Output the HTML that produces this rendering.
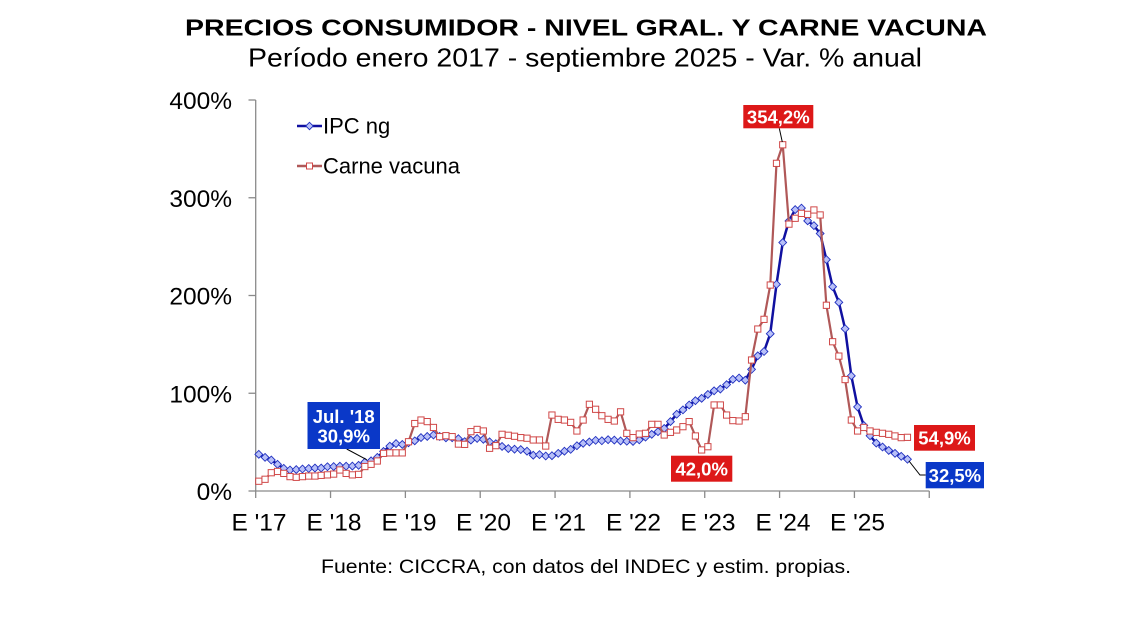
<!DOCTYPE html>
<html>
<head>
<meta charset="utf-8">
<style>
html,body{margin:0;padding:0;background:#fff;}
svg{display:block;}
text{font-family:"Liberation Sans",Arial,sans-serif;}
</style>
</head>
<body>
<svg id="c" width="1123" height="632" viewBox="0 0 1123 632" xmlns="http://www.w3.org/2000/svg">
<rect width="1123" height="632" fill="#fff"/>
<text x="586" y="35.7" font-size="23.5" font-weight="bold" text-anchor="middle" textLength="802" lengthAdjust="spacingAndGlyphs" fill="#000">PRECIOS CONSUMIDOR - NIVEL GRAL. Y CARNE VACUNA</text>
<text x="585" y="66.7" font-size="26" text-anchor="middle" textLength="674" lengthAdjust="spacingAndGlyphs" fill="#000">Período enero 2017 - septiembre 2025 - Var. % anual</text>
<text x="586" y="573" font-size="19.5" text-anchor="middle" textLength="530" lengthAdjust="spacingAndGlyphs" fill="#000">Fuente: CICCRA, con datos del INDEC y estim. propias.</text>

<!-- axes -->
<g stroke="#8a8a8a" stroke-width="1.3" fill="none">
<line x1="255.7" y1="100" x2="255.7" y2="491"/>
<line x1="255.7" y1="491" x2="929.3" y2="491"/>
<line x1="248.5" y1="100" x2="255.7" y2="100"/>
<line x1="248.5" y1="197.75" x2="255.7" y2="197.75"/>
<line x1="248.5" y1="295.5" x2="255.7" y2="295.5"/>
<line x1="248.5" y1="393.25" x2="255.7" y2="393.25"/>
<line x1="248.5" y1="491" x2="255.7" y2="491"/>
<g id="xt"></g>
</g>
<g font-size="24.5" fill="#000" text-anchor="end">
<text x="232" y="109">400%</text>
<text x="232" y="206.8">300%</text>
<text x="232" y="304.5">200%</text>
<text x="232" y="402.3">100%</text>
<text x="232" y="500">0%</text>
</g>
<g font-size="24.5" fill="#000" text-anchor="middle">
<text x="259" y="530.7">E '17</text>
<text x="334" y="530.7">E '18</text>
<text x="409" y="530.7">E '19</text>
<text x="483.5" y="530.7">E '20</text>
<text x="558.5" y="530.7">E '21</text>
<text x="633.5" y="530.7">E '22</text>
<text x="708" y="530.7">E '23</text>
<text x="783" y="530.7">E '24</text>
<text x="857.5" y="530.7">E '25</text>
</g>

<!-- legend -->
<line x1="297" y1="126" x2="322" y2="126" stroke="#1010a0" stroke-width="2.5"/>
<polygon points="309.5,122.3 313.2,126 309.5,129.7 305.8,126" fill="#b8c0f8" stroke="#2030c0" stroke-width="0.9"/>
<text x="323" y="133.3" font-size="22" fill="#000">IPC ng</text>
<line x1="297" y1="166" x2="322" y2="166" stroke="#b05858" stroke-width="2.5"/>
<rect x="306.5" y="163" width="6" height="6" fill="#fff" stroke="#d04848" stroke-width="1"/>
<text x="323" y="173.3" font-size="22" fill="#000">Carne vacuna</text>

<g id="series"></g>

<!-- labels -->
<line x1="346.7" y1="449" x2="366.7" y2="459.7" stroke="#000" stroke-width="1"/>
<rect x="307.5" y="402" width="72.5" height="47" fill="#0a38c8"/>
<text x="343.7" y="423" font-size="18.5" font-weight="bold" fill="#fff" text-anchor="middle">Jul. '18</text>
<text x="343.7" y="442.3" font-size="18.5" font-weight="bold" fill="#fff" text-anchor="middle">30,9%</text>

<line x1="779.3" y1="128.3" x2="782.3" y2="142" stroke="#000" stroke-width="1"/>
<rect x="743.3" y="105" width="70" height="23.3" fill="#dd1818"/>
<text x="778.3" y="123.5" font-size="18.5" font-weight="bold" fill="#fff" text-anchor="middle">354,2%</text>

<rect x="671" y="455.7" width="61.3" height="26" fill="#dd1818"/>
<text x="701.7" y="475.5" font-size="18.5" font-weight="bold" fill="#fff" text-anchor="middle">42,0%</text>

<rect x="914" y="425" width="61" height="25.7" fill="#dd1818"/>
<text x="944.5" y="444.5" font-size="18.5" font-weight="bold" fill="#fff" text-anchor="middle">54,9%</text>

<polyline points="909,461 920,475 925.7,475" fill="none" stroke="#000" stroke-width="1"/>
<rect x="925.7" y="462" width="58.3" height="26.3" fill="#0a38c8"/>
<text x="954.9" y="482" font-size="18.5" font-weight="bold" fill="#fff" text-anchor="middle">32,5%</text>
</svg>
<script>
(function(){
var NS="http://www.w3.org/2000/svg";
var ipc=[37.5,34.4,31.7,27.3,23.2,21.5,21.9,22.5,23.0,23.5,23.5,24.8,
25.0,25.4,25.4,25.5,26.3,29.5,30.9,34.4,40.5,45.9,48.5,47.6,
49.3,51.3,54.7,55.8,57.3,55.8,54.4,54.5,53.5,50.5,52.1,53.8,
52.9,50.3,48.4,45.6,43.4,42.8,42.4,40.7,36.6,37.2,35.8,36.1,
38.5,40.7,42.6,46.3,48.8,50.2,51.8,51.4,52.5,52.1,51.2,50.9,
50.7,52.3,55.1,58.0,60.7,64.0,71.0,78.5,83.0,88.0,92.4,94.8,
98.8,102.5,104.3,108.8,114.2,115.6,113.4,124.4,138.3,142.7,160.9,211.4,
254.2,276.2,287.9,289.4,276.4,271.5,263.4,236.7,209.0,193.0,166.0,117.8,
86,67,56.5,49,45,41.5,38.5,35.5,32.5];
var carne=[10,12,18.7,20,18,14.7,14,14.7,15.3,15.3,16,16.5,
17.3,21.5,18,16.5,17,25,27.3,30.7,38.5,39,39,39,
50.4,69,72.6,71,65,55.6,56.6,55.6,48,47.7,60.7,63,
61.4,43.7,46.4,58,57,56,54.6,54,52.2,52.2,46,77.7,
73.3,72.6,70.2,61.4,72.6,88.7,83.6,77,73.3,71.6,81,59,
54.6,58.3,59,68.2,68.2,57.3,60,62.4,65.8,71,56.3,42,
45.3,88,88,77.7,72,71.6,76,134,165.7,175.6,210.7,335.2,
354.2,273,279,284,283,287.5,282.4,190,152.7,138,114,72.6,
61.4,65,61.4,60,59,58,56.3,54.6,54.9];
function X(i){return 255.7+(i+0.5)*6.237;}
function Y(v){return 491-v*0.9775;}
var xt=document.getElementById("xt");
for(var k=0;k<=9;k++){var l=document.createElementNS(NS,"line");var xx=255.7+k*74.84;
l.setAttribute("x1",xx);l.setAttribute("x2",xx);l.setAttribute("y1",491);l.setAttribute("y2",498);xt.appendChild(l);}
var g=document.getElementById("series");
function poly(d,col,w){var p=document.createElementNS(NS,"polyline");var s=[];
for(var i=0;i<d.length;i++)s.push(X(i).toFixed(2)+","+Y(d[i]).toFixed(2));
p.setAttribute("points",s.join(" "));p.setAttribute("fill","none");p.setAttribute("stroke",col);
p.setAttribute("stroke-width",w);p.setAttribute("stroke-linejoin","round");g.appendChild(p);}
poly(ipc,"#1010a0",2.5);
for(var i=0;i<ipc.length;i++){var x=X(i),y=Y(ipc[i]);var q=document.createElementNS(NS,"polygon");
q.setAttribute("points",x+","+(y-3.9)+" "+(x+3.9)+","+y+" "+x+","+(y+3.9)+" "+(x-3.9)+","+y);
q.setAttribute("fill","#b8c0f8");q.setAttribute("stroke","#2030c0");q.setAttribute("stroke-width","0.9");g.appendChild(q);}
poly(carne,"#b05858",2.2);
for(var i=0;i<carne.length;i++){var x=X(i),y=Y(carne[i]);var r=document.createElementNS(NS,"rect");
r.setAttribute("x",x-3.1);r.setAttribute("y",y-3.1);r.setAttribute("width",6.2);r.setAttribute("height",6.2);
r.setAttribute("fill","#fff");r.setAttribute("stroke","#d04848");r.setAttribute("stroke-width","1");g.appendChild(r);}
})();
</script>
</body>
</html>
